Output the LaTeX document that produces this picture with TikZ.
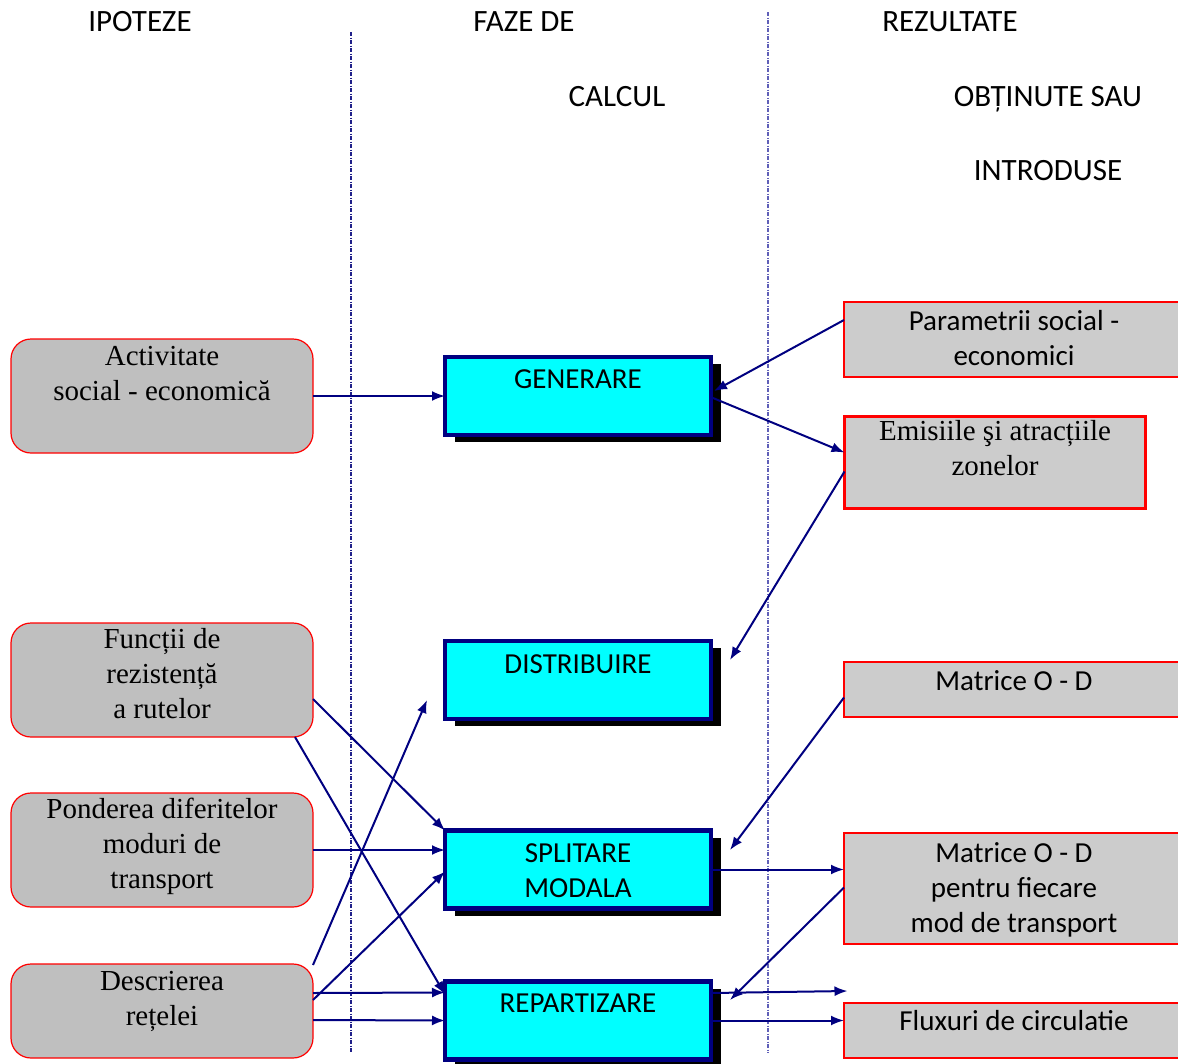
\documentclass[tikz,border=0pt]{standalone}
\usepackage{fontspec}
\setmainfont{Liberation Serif}
\newfontfamily\calib{Carlito}
\usetikzlibrary{arrows.meta,calc,shadows}
\definecolor{navyc}{HTML}{000080}
\definecolor{lgray}{HTML}{BFBFBF}
\definecolor{rgray}{HTML}{CCCCCC}
\definecolor{aqua}{HTML}{00FFFF}
\definecolor{sepA}{HTML}{20208A}
\definecolor{sepB}{HTML}{6060B8}
\begin{document}
\begin{tikzpicture}[x=1pt,y=-1pt,
  lbox/.style={draw=red, line width=1.2pt, fill=lgray, rounded corners=20pt, inner sep=0pt, outer sep=0pt},
  mbox/.style={draw=navyc, line width=4.5pt, fill=aqua, inner sep=0pt, outer sep=0pt,
    minimum width=266pt, minimum height=78pt,
    drop shadow={shadow xshift=10pt, shadow yshift=-7pt, opacity=1, fill=black}},
  rbox/.style={draw=red, line width=2.5pt, fill=rgray, inner sep=0pt, outer sep=0pt},
  sertxt/.style={font=\fontsize{29}{35}\selectfont, align=center, anchor=base, inner sep=0pt},
  santxt/.style={font=\calib\fontsize{29}{35}\selectfont, align=center, anchor=base, inner sep=0pt},
  headtxt/.style={font=\calib\fontsize{31}{35}\selectfont, anchor=base, inner sep=0pt},
  conn/.style={draw=navyc, line width=2pt, -{Latex[length=13pt,width=10pt]}},
  sep/.style={line width=1.2pt, dash pattern=on 4pt off 1.5pt on 1pt off 1.5pt}]
\useasboundingbox (0,0) rectangle (1178,1063);
\clip (0,0) rectangle (1178,1063);

% headers
\node[headtxt] (h1) at (140,31) {IPOTEZE};
\node[headtxt] (h2) at (524,31) {FAZE DE};
\node[headtxt] (h3) at (617,106) {CALCUL};
\node[headtxt] (h4) at (950,31) {REZULTATE};
\node[headtxt] (h5) at (1048,106) {OBȚINUTE SAU};
\node[headtxt] (h6) at (1048,180) {INTRODUSE};

% separators
\coordinate (s1a) at (351,32); \coordinate (s1b) at (351,1053);
\coordinate (s2a) at (768,12); \coordinate (s2b) at (768,1053);
\draw[sep, sepA] (s1a) -- (s1b);
\draw[sep, sepB] (s2a) -- (s2b);

% left boxes
\node[lbox, minimum width=302pt, minimum height=114pt] (act) at (162,396) {};
\node[lbox, minimum width=302pt, minimum height=114pt] (fun) at (162,680) {};
\node[lbox, minimum width=302pt, minimum height=114pt] (pon) at (162,850) {};
\node[lbox, minimum width=302pt, minimum height=94pt] (des) at (162,1011) {};
\node[sertxt] (tact) at (162,400) {Activitate\\social - economică};
\node[sertxt] (tfun) at (162,718) {Funcții de\\rezistență\\a rutelor};
\node[sertxt] (tpon) at (162,888) {Ponderea diferitelor\\moduri de\\transport};
\node[sertxt] (tdes) at (162,1025) {Descrierea\\rețelei};

% middle boxes
\node[mbox] (gen) at (578,396) {};
\node[mbox] (dis) at (578,680) {};
\node[mbox] (spl) at (578,869.5) {};
\node[mbox] (rep) at (578,1020.5) {};
\node[santxt] (tgen) at (578,388) {GENERARE};
\node[santxt] (tdis) at (578,673) {DISTRIBUIRE};
\node[santxt] (tspl) at (578,897) {SPLITARE\\MODALA};
\node[santxt] (trep) at (578,1012) {REPARTIZARE};

% right boxes
\node[rbox, minimum width=341pt, minimum height=75pt] (par) at (1014.5,339.5) {};
\node[rbox, minimum width=301pt, minimum height=92pt] (emi) at (995,462.5) {};
\node[rbox, minimum width=341pt, minimum height=55pt] (mat) at (1014.5,689.5) {};
\node[rbox, minimum width=341pt, minimum height=111pt] (mfp) at (1014.5,888.5) {};
\node[rbox, minimum width=341pt, minimum height=55pt] (flx) at (1014.5,1030.5) {};
\node[santxt] (tpar) at (1014,365) {Parametrii social -\\economici};
\node[sertxt] (temi) at (995,475) {Emisiile şi atracțiile\\zonelor};
\node[santxt] (tmat) at (1014,690) {Matrice O - D};
\node[santxt] (tmfp) at (1014,932) {Matrice O - D\\pentru fiecare\\mod de transport};
\node[santxt] (tflx) at (1014,1030) {Fluxuri de circulatie};

% free ends
\coordinate (dfree) at ($(dis.south west)+(-18,-19)$);
\coordinate (rfree) at ($(flx.north west)+(3.5,-12)$);

% connectors
\draw[conn] (act.east) -- (gen.west);
\draw[conn] ($(par.west)+(0,-19.5)$) -- ($(gen.east)+(3,-5)$);
\draw[conn] ($(gen.east)+(2,2)$) -- ($(emi.west)+(0,-10)$);
\draw[conn] ($(emi.west)+(0,9)$) -- ($(dis.east)+(19,-20)$);
\draw[conn] ($(fun.east)+(0,19)$) -- (spl.north west);
\draw[conn] ($(fun.south east)+(-18,0)$) -- ($(rep.north west)+(0,13)$);
\draw[conn] (pon.east) -- ($(spl.west)+(0,-19.5)$);
\draw[conn] ($(des.north east)+(0,1)$) -- (dfree);
\draw[conn] ($(des.east)+(0,-11)$) -- ($(spl.west)+(0,2)$);
\draw[conn] ($(des.east)+(0,-18)$) -- ($(rep.west)+(0,-28)$);
\draw[conn] ($(des.east)+(0,9)$) -- (rep.west);
\draw[conn] ($(mat.west)+(0,8)$) -- ($(spl.east)+(19,-19.5)$);
\draw[conn] (spl.east) -- ($(mfp.west)+(0,-19)$);
\draw[conn] ($(mfp.west)+(0,-1)$) -- ($(rep.east)+(19,-20.5)$);
\draw[conn] ($(rep.east)+(0,-27.5)$) -- (rfree);
\draw[conn] (rep.east) -- ($(flx.west)+(0,-10)$);
\end{tikzpicture}
\end{document}
